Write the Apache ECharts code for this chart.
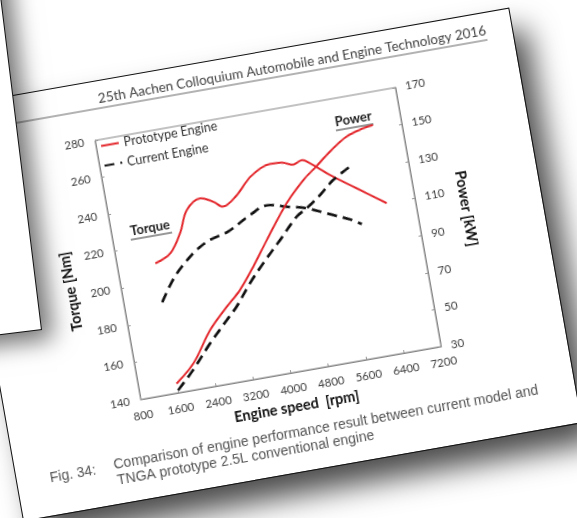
<!DOCTYPE html>
<html>
<head>
<meta charset="utf-8">
<script src="https://cdn.jsdelivr.net/npm/echarts@6/dist/echarts.min.js"></script>
<style>
  html, body { margin: 0; padding: 0; width: 577px; height: 518px; overflow: hidden; background: #fff; }
  #page {
    position: absolute; left: -49px; top: 107px; width: 566px; height: 420px;
    background: #fff; outline: 1.5px solid #111;
    transform-origin: 0 0; transform: rotate(-10deg);
    box-shadow: 14px 22px 30px rgba(0, 0, 0, 0.7);
  }
  #chart { position: absolute; left: 0; top: 0; width: 566px; height: 420px; }
  #back {
    position: absolute; left: -358px; top: -70px; width: 400px; height: 400px;
    box-sizing: border-box; background: #fff; border: 1.5px solid #111;
    transform-origin: 100% 100%; transform: rotate(-7deg);
    box-shadow: 10px 10px 22px rgba(0, 0, 0, 0.55);
  }
</style>
</head>
<body>
<div id="page"><div id="chart"></div></div>
<div id="back"></div>
<script>
// axis ranges
const rpmMin = 800, rpmMax = 7200, rpmStep = 800
const torqueMin = 140, torqueMax = 280, torqueStep = 20
const powerMin = 30, powerMax = 170, powerStep = 20

const seriesNames = ['Prototype Engine', 'Current Engine']

// [rpm, Nm]
const protoTorque = [[1600, 210], [1950, 214], [2230, 224], [2440, 235], [2760, 240], [3020, 237], [3210, 233.5], [3520, 238], [3900, 247], [4330, 251.5], [4600, 251], [4810, 249], [5000, 250.6], [5160, 248.2], [5530, 240.2], [6030, 230.8], [6600, 220.2]]
const currentTorque = [[1600, 189], [1910, 200], [2170, 206.6], [2500, 213.2], [2810, 217.2], [3220, 220], [3730, 226.6], [4110, 230.1], [4520, 227.6], [4930, 224.9], [5320, 220.4], [5790, 215], [6010, 211.5]]
// [rpm, kW]
const protoPower = [[1600, 35], [2020, 44], [2490, 60], [2920, 70.7], [3250, 78.2], [3610, 89.2], [3990, 102], [4530, 119.4], [4960, 130], [5270, 135.8], [5610, 142.4], [6010, 148.8], [6390, 151.6], [6600, 152.4]]
const currentPower = [[1610, 31.4], [1990, 40.6], [2440, 53], [2870, 63.7], [3120, 69.8], [3480, 80.8], [3830, 90.1], [4260, 100.7], [4690, 111.4], [4930, 115], [5250, 120.6], [5580, 127.3], [5970, 132.7]]

const red = '#e3262b'
const dark = '#111'
const labelFont = 'Lato'

const axisLine = { lineStyle: { color: '#858585', width: 1 } }
const axisTick = { show: true, inside: true, length: 3, lineStyle: { color: '#999' } }
const axisLabel = { color: '#404040', fontFamily: labelFont, fontSize: 11.5, formatter: v => String(v) }
const nameStyle = { color: '#111', fontFamily: labelFont, fontSize: 14.5, fontWeight: 'bold' }

function redLine (name, data, yIndex) {
  return {
    name: name, type: 'line', yAxisIndex: yIndex, data: data,
    smooth: 0.35, symbol: 'none',
    lineStyle: { color: red, width: 2 }, itemStyle: { color: red }
  }
}
function dashLine (name, data, yIndex) {
  return {
    name: name, type: 'line', yAxisIndex: yIndex, data: data,
    smooth: 0.35, symbol: 'none',
    lineStyle: { color: dark, width: 2.7, type: [10, 6] }, itemStyle: { color: dark }
  }
}

// underlined bold label inside the plot
function tag (text, x, y, w) {
  return {
    type: 'group', x: x, y: y,
    children: [
      { type: 'text', style: { text: text, x: 0, y: 0, align: 'center', verticalAlign: 'middle', font: 'bold 13px Lato', fill: '#222' } },
      { type: 'line', shape: { x1: -w / 2, y1: 8, x2: w / 2, y2: 8 }, style: { stroke: '#333', lineWidth: 1 } }
    ]
  }
}

const captionFont = '14px "Liberation Sans"'

const chart = echarts.init(document.getElementById('chart'))
chart.setOption({
  animation: false,
  grid: { left: 136, top: 58, width: 305, height: 263, show: true, borderColor: '#858585', borderWidth: 1 },
  legend: {
    data: seriesNames, orient: 'vertical', left: 140, top: 58,
    itemWidth: 18, itemHeight: 10, itemGap: 7, padding: 0,
    itemStyle: { opacity: 0 },
    textStyle: { color: '#333', fontFamily: labelFont, fontSize: 12.5 }
  },
  xAxis: {
    type: 'value', min: rpmMin, max: rpmMax, interval: rpmStep,
    name: 'Engine speed  [rpm]', nameLocation: 'middle', nameGap: 24, nameTextStyle: nameStyle,
    axisLine: axisLine, axisTick: axisTick, splitLine: { show: false },
    axisLabel: Object.assign({ margin: 10 }, axisLabel)
  },
  yAxis: [
    {
      type: 'value', min: torqueMin, max: torqueMax, interval: torqueStep,
      name: 'Torque [Nm]', nameLocation: 'middle', nameGap: 31,
      nameTextStyle: Object.assign({ padding: [0, 26, 0, 0] }, nameStyle),
      axisLine: Object.assign({ show: true }, axisLine), axisTick: axisTick, splitLine: { show: false },
      axisLabel: Object.assign({ margin: 11 }, axisLabel)
    },
    {
      type: 'value', position: 'right', min: powerMin, max: powerMax, interval: powerStep,
      name: 'Power [kW]', nameLocation: 'middle', nameGap: 29, nameRotate: -90, nameTextStyle: nameStyle,
      axisLine: Object.assign({ show: true }, axisLine), axisTick: axisTick, splitLine: { show: false },
      axisLabel: Object.assign({ margin: 10 }, axisLabel)
    }
  ],
  series: [
    redLine(seriesNames[0], protoTorque, 0),
    dashLine(seriesNames[1], currentTorque, 0),
    redLine(seriesNames[0], protoPower, 1),
    dashLine(seriesNames[1], currentPower, 1)
  ],
  graphic: [
    { type: 'text', style: { text: '25th Aachen Colloquium Automobile and Engine Technology 2016', x: 540, y: 25, align: 'right', verticalAlign: 'bottom', font: '13.5px Lato', fill: '#444' } },
    { type: 'line', shape: { x1: 0, y1: 27, x2: 540, y2: 27 }, style: { stroke: '#666', lineWidth: 1 } },
    tag('Torque', 175, 154, 42),
    tag('Power', 394, 82, 38),
    { type: 'text', style: { text: 'Fig. 34:', x: 33, y: 383, verticalAlign: 'middle', font: captionFont, fill: '#555' } },
    { type: 'text', style: { text: 'Comparison of engine performance result between current model and', x: 98, y: 381, verticalAlign: 'middle', font: captionFont, fill: '#555' } },
    { type: 'text', style: { text: 'TNGA prototype 2.5L conventional engine', x: 99, y: 397, verticalAlign: 'middle', font: captionFont, fill: '#555' } }
  ]
})
</script>
</body>
</html>
